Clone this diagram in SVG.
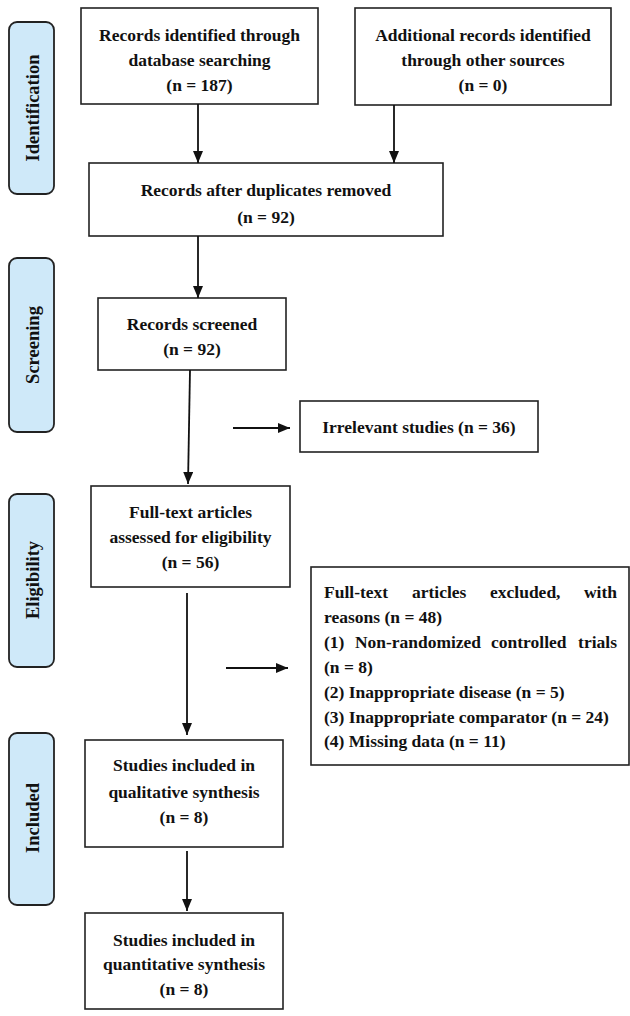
<svg xmlns="http://www.w3.org/2000/svg" width="630" height="1016" viewBox="0 0 630 1016">
<defs>
<marker id="ah" viewBox="0 0 12 10" refX="12" refY="5" markerWidth="12" markerHeight="10" markerUnits="userSpaceOnUse" orient="auto">
<path d="M0,0 L12,5 L0,10 Z" fill="#111"/>
</marker>
</defs>
<style>
.box{fill:#fff;stroke:#222;stroke-width:1.6}
.side{fill:#cfe9f9;stroke:#222;stroke-width:1.8}
.t{font-family:"Liberation Serif","Times New Roman",serif;font-weight:bold;font-size:17.5px;fill:#111;text-anchor:middle}
.l{font-family:"Liberation Serif","Times New Roman",serif;font-weight:bold;font-size:17.5px;fill:#111}
.s{font-family:"Liberation Serif","Times New Roman",serif;font-weight:bold;font-size:18.5px;fill:#111;text-anchor:middle}
.c{stroke:#111;stroke-width:1.8;fill:none;marker-end:url(#ah)}
</style>
<rect width="630" height="1016" fill="#fff"/>

<g id="side-identification">
<rect class="side" x="9" y="22" width="45" height="172" rx="8"/>
<text class="s" transform="translate(38.5,108) rotate(-90)">Identification</text>
</g>
<g id="side-screening">
<rect class="side" x="9" y="258" width="45" height="174" rx="8"/>
<text class="s" transform="translate(38.5,345) rotate(-90)">Screening</text>
</g>
<g id="side-eligibility">
<rect class="side" x="9" y="494" width="45" height="173" rx="8"/>
<text class="s" transform="translate(38.5,580) rotate(-90)">Eligibility</text>
</g>
<g id="side-included">
<rect class="side" x="9" y="733" width="45" height="172" rx="8"/>
<text class="s" transform="translate(38.5,818) rotate(-90)">Included</text>
</g>

<g id="n-db">
<rect class="box" x="81" y="8" width="237" height="96"/>
<text class="t" x="199.5" y="41">Records identified through</text>
<text class="t" x="199.5" y="66">database searching</text>
<text class="t" x="199.5" y="91">(n = 187)</text>
</g>
<g id="n-other">
<rect class="box" x="355" y="8" width="256" height="97"/>
<text class="t" x="483" y="41">Additional records identified</text>
<text class="t" x="483" y="66">through other sources</text>
<text class="t" x="483" y="91">(n = 0)</text>
</g>
<g id="n-dup">
<rect class="box" x="89" y="163" width="354" height="73"/>
<text class="t" x="266" y="196">Records after duplicates removed</text>
<text class="t" x="266" y="223">(n = 92)</text>
</g>
<g id="n-screened">
<rect class="box" x="98" y="298" width="188" height="72"/>
<text class="t" x="192" y="330">Records screened</text>
<text class="t" x="192" y="355">(n = 92)</text>
</g>
<g id="n-irrelevant">
<rect class="box" x="300" y="401" width="238" height="51"/>
<text class="t" x="419" y="433">Irrelevant studies (n = 36)</text>
</g>
<g id="n-fulltext">
<rect class="box" x="91" y="486" width="199" height="101"/>
<text class="t" x="190.5" y="518">Full-text articles</text>
<text class="t" x="190.5" y="543">assessed for eligibility</text>
<text class="t" x="190.5" y="568">(n = 56)</text>
</g>
<g id="n-excluded">
<rect class="box" x="311" y="567" width="318" height="198"/>
<text class="l" x="324" y="598">Full-text</text>
<text class="l" x="412" y="598">articles</text>
<text class="l" x="490" y="598">excluded,</text>
<text class="l" x="617" y="598" text-anchor="end">with</text>
<text class="l" x="324" y="623">reasons (n = 48)</text>
<text class="l" x="324" y="648">(1)</text>
<text class="l" x="355" y="648" textLength="126" lengthAdjust="spacingAndGlyphs">Non-randomized</text>
<text class="l" x="491" y="648">controlled</text>
<text class="l" x="617" y="648" text-anchor="end">trials</text>
<text class="l" x="324" y="673">(n = 8)</text>
<text class="l" x="324" y="698">(2) Inappropriate disease (n = 5)</text>
<text class="l" x="324" y="723">(3) Inappropriate comparator (n = 24)</text>
<text class="l" x="324" y="747">(4) Missing data (n = 11)</text>
</g>
<g id="n-qual">
<rect class="box" x="85" y="740" width="198" height="107"/>
<text class="t" x="184" y="771">Studies included in</text>
<text class="t" x="184" y="798">qualitative synthesis</text>
<text class="t" x="184" y="823">(n = 8)</text>
</g>
<g id="n-quant">
<rect class="box" x="85" y="913" width="198" height="96"/>
<text class="t" x="184" y="946">Studies included in</text>
<text class="t" x="184" y="970">quantitative synthesis</text>
<text class="t" x="184" y="995">(n = 8)</text>
</g>

<g id="connectors">
<line class="c" x1="198" y1="104" x2="198" y2="163"/>
<line class="c" x1="394" y1="105" x2="394" y2="163"/>
<line class="c" x1="198" y1="236" x2="198" y2="298"/>
<line class="c" x1="190" y1="370" x2="188" y2="484"/>
<line class="c" x1="233" y1="428" x2="290" y2="428"/>
<line class="c" x1="187" y1="593" x2="187" y2="735"/>
<line class="c" x1="226" y1="668" x2="288" y2="668"/>
<line class="c" x1="187" y1="851" x2="187" y2="911"/>
</g>
</svg>
